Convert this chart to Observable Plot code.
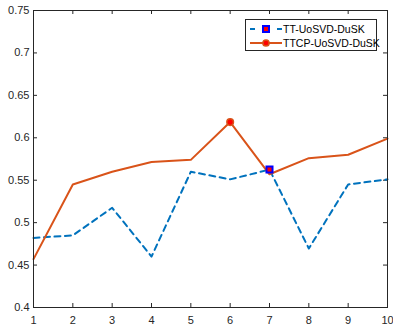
<!DOCTYPE html>
<html>
<head>
<meta charset="utf-8">
<script src="https://cdn.jsdelivr.net/npm/d3@7"></script>
<script src="https://cdn.jsdelivr.net/npm/@observablehq/plot@0.6"></script>
<style>
  html, body { margin: 0; padding: 0; background: #fff; }
  #wrap { position: relative; width: 393px; height: 326px; overflow: hidden; font-family: "Liberation Sans", Arial, Helvetica, sans-serif; }
  #legend { position: absolute; left: 245px; top: 19px; width: 132px; height: 32px; border: 1px solid #262626; background: #fff; box-sizing: border-box; font-size: 10.5px; color: #000; }
  .row { position: absolute; left: 3px; height: 14px; display: flex; align-items: center; white-space: nowrap; }
  .row svg { margin-right: 1px; flex: none; }
</style>
</head>
<body>
<div id="wrap"><div id="chart"></div><div id="legend"></div></div>
<script>
const xs = [1, 2, 3, 4, 5, 6, 7, 8, 9, 10];
const ttValues = [0.482, 0.485, 0.5175, 0.460, 0.560, 0.551, 0.5625, 0.4695, 0.545, 0.551];
const ttcpValues = [0.457, 0.545, 0.560, 0.5715, 0.574, 0.6185, 0.557, 0.576, 0.580, 0.599];
const seriesNames = ["TT-UoSVD-DuSK", "TTCP-UoSVD-DuSK"];
const ttMarkerIndex = [6];
const ttcpMarkerIndex = [5];
const xTicks = [1, 2, 3, 4, 5, 6, 7, 8, 9, 10];
const yTicks = [0.4, 0.45, 0.5, 0.55, 0.6, 0.65, 0.7, 0.75];
const yTickLabels = ["0.4", "0.45", "0.5", "0.55", "0.6", "0.65", "0.7", "0.75"];

const blue = "#0072BD", orange = "#D95319", axisColor = "#262626";
const tt = xs.map((x, i) => ({x, y: ttValues[i]}));
const ttcp = xs.map((x, i) => ({x, y: ttcpValues[i]}));
const ttMarks = ttMarkerIndex.map(i => tt[i]);
const ttcpMarks = ttcpMarkerIndex.map(i => ttcp[i]);

const W = 393, H = 326, mL = 33, mR = 6, mT = 10, mB = 19;
const innerH = H - mT - mB, innerW = W - mL - mR;
const tl = 4;

const chart = Plot.plot({
  width: W, height: H,
  marginLeft: mL, marginRight: mR, marginTop: mT, marginBottom: mB,
  style: {fontFamily: "'Liberation Sans', Arial, Helvetica, sans-serif", fontSize: "11px", color: axisColor, background: "#fff"},
  x: {domain: [1, 10], label: null},
  y: {domain: [0.4, 0.75], label: null},
  marks: [
    Plot.axisX(xTicks, {anchor: "bottom", label: null, tickSize: 0, tickPadding: 8.5, tickFormat: d => String(d), fill: axisColor, fontSize: 11}),
    Plot.axisY(yTicks, {anchor: "left", label: null, tickSize: 0, tickPadding: 4, tickFormat: d => yTickLabels[yTicks.indexOf(d)], fill: axisColor, fontSize: 11}),
    Plot.tickX(xTicks, {x: d => d, insetTop: innerH - tl, stroke: axisColor, strokeWidth: 1}),
    Plot.tickX(xTicks, {x: d => d, insetBottom: innerH - tl, stroke: axisColor, strokeWidth: 1}),
    Plot.tickY(yTicks, {y: d => d, insetRight: innerW - tl, stroke: axisColor, strokeWidth: 1}),
    Plot.tickY(yTicks, {y: d => d, insetLeft: innerW - tl, stroke: axisColor, strokeWidth: 1}),
    Plot.line(tt, {x: "x", y: "y", stroke: blue, strokeWidth: 2, strokeDasharray: "6,4.5"}),
    Plot.line(ttcp, {x: "x", y: "y", stroke: orange, strokeWidth: 2}),
    Plot.dot(ttcpMarks, {x: "x", y: "y", r: 3.3, fill: "red", stroke: orange, strokeWidth: 1.5}),
    Plot.dot(ttMarks, {x: "x", y: "y", symbol: "square", r: 3.4, fill: "red", stroke: "#0000FF", strokeWidth: 2}),
    Plot.frame({stroke: axisColor, strokeWidth: 1})
  ]
});
document.getElementById("chart").appendChild(chart);

const legend = document.getElementById("legend");
const rows = [
  {name: seriesNames[0], sw: `<svg width="33" height="10"><line x1="1" y1="5" x2="6" y2="5" stroke="${blue}" stroke-width="2"/><line x1="28" y1="5" x2="33" y2="5" stroke="${blue}" stroke-width="2"/><rect x="14" y="2" width="6" height="6" fill="red" stroke="#0000FF" stroke-width="2"/></svg>`},
  {name: seriesNames[1], sw: `<svg width="33" height="10"><line x1="1" y1="5" x2="33" y2="5" stroke="${orange}" stroke-width="2"/><circle cx="17" cy="5" r="3.1" fill="red" stroke="${orange}" stroke-width="1.5"/></svg>`}
];
rows.forEach((r, i) => {
  const d = document.createElement("div");
  d.className = "row";
  d.style.top = (2 + i * 13.5) + "px";
  d.innerHTML = r.sw + "<span>" + r.name + "</span>";
  legend.appendChild(d);
});
</script>
</body>
</html>
